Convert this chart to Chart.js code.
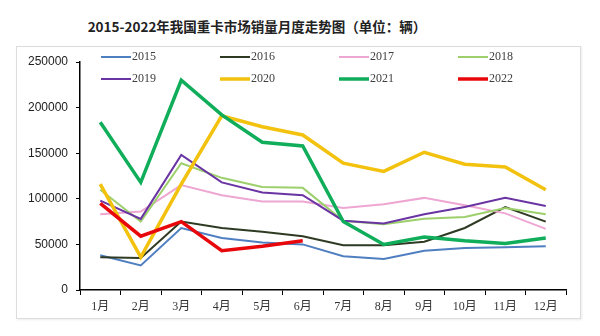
<!DOCTYPE html>
<html>
<head>
<meta charset="utf-8">
<script src="https://cdn.jsdelivr.net/npm/chart.js@4"></script>
<style>
    body { margin: 0; background: #fff; }
    #wrap { position: relative; width: 600px; height: 336px; }
    #titulo {
        position: absolute; left: 0; top: 16px; width: 514px; text-align: center;
        font: bold 13.5px "Noto Sans CJK SC", sans-serif; color: #222;
    }
    #marco {
        position: absolute; left: 16px; top: 46px; width: 563px; height: 271px;
        border: 1px solid #dcdcdc; box-shadow: 1px 1px 2px rgba(0, 0, 0, 0.08);
    }
    #myChart { position: absolute; left: 0; top: 0; }
</style>
</head>
<body>
<div id="wrap">
    <div id="titulo">2015-2022年我国重卡市场销量月度走势图（单位：辆）</div>
    <div id="marco"></div>
    <canvas id="myChart" width="600" height="336"></canvas>
</div>
<script>
// Datos
const meses = ["1月", "2月", "3月", "4月", "5月", "6月", "7月", "8月", "9月", "10月", "11月", "12月"];
const anios = ["2015", "2016", "2017", "2018", "2019", "2020", "2021", "2022"];
const v2015 = [38000, 27000, 68000, 57000, 52000, 50000, 37000, 34000, 43000, 46000, 47000, 48000];
const v2016 = [36000, 35000, 75000, 68000, 64000, 59000, 49000, 49000, 53000, 68000, 91000, 75000];
const v2017 = [83000, 86000, 115000, 104000, 97000, 97000, 90000, 94000, 101000, 93000, 84000, 67000];
const v2018 = [110000, 75000, 139000, 123000, 113000, 112000, 76000, 72000, 78000, 80000, 90000, 83000];
const v2019 = [98000, 78000, 148000, 118000, 107000, 104000, 76000, 73000, 83000, 91000, 101000, 92000];
const v2020 = [116000, 36000, 116000, 191000, 179000, 170000, 139000, 130000, 151000, 138000, 135000, 110000];
const v2021 = [184000, 118000, 230000, 192000, 162000, 158000, 75000, 50000, 58000, 54000, 51000, 57000];
const v2022 = [95000, 59000, 75000, 43000, 48000, 54000];
const yTicks = [0, 50000, 100000, 150000, 200000, 250000];

document.addEventListener("DOMContentLoaded", function () {
    const series = [v2015, v2016, v2017, v2018, v2019, v2020, v2021, v2022];
    const colores = ["#4f7fc0", "#2e3a22", "#eea6d2", "#9dd06c", "#6a35a3", "#f2c20f", "#10ad5a", "#e8080c"];
    const anchos = [2, 2, 2, 2, 2, 3.5, 3.5, 3.5];

    const datasets = anios.map((a, i) => ({
        label: a,
        data: series[i],
        borderColor: colores[i],
        backgroundColor: colores[i],
        borderWidth: anchos[i],
        pointRadius: 0,
        tension: 0,
        fill: false,
        order: anios.length - i
    }));

    // Leyenda dibujada dentro del área del gráfico (4 columnas x 2 filas)
    const leyendaPlugin = {
        id: "leyenda",
        afterDraw(chart) {
            const ctx = chart.ctx;
            ctx.save();
            ctx.font = "12px 'Liberation Serif', serif";
            ctx.textBaseline = "middle";
            chart.data.datasets.forEach((ds, i) => {
                const x = 101 + (i % 4) * 119;
                const y = 57 + Math.floor(i / 4) * 22;
                ctx.strokeStyle = ds.borderColor;
                ctx.lineWidth = ds.borderWidth;
                ctx.beginPath();
                ctx.moveTo(x, y);
                ctx.lineTo(x + 30, y);
                ctx.stroke();
                ctx.fillStyle = "#404040";
                ctx.fillText(ds.label, x + 31, y);
            });
            ctx.restore();
        }
    };

    const ctx = document.getElementById("myChart").getContext("2d");
    new Chart(ctx, {
        type: "line",
        data: { labels: meses, datasets: datasets },
        plugins: [leyendaPlugin],
        options: {
            responsive: false,
            animation: false,
            layout: { padding: { top: 62, right: 34, left: 0, bottom: 0 } },
            plugins: { legend: { display: false }, tooltip: { enabled: false } },
            scales: {
                x: {
                    offset: true,
                    grid: { offset: true, drawOnChartArea: false, drawTicks: true, tickLength: 5, color: "#000" },
                    border: { display: true, color: "#000", width: 1.5 },
                    ticks: { color: "#333", padding: 5, maxRotation: 0, font: { family: "'Liberation Serif', 'Noto Sans CJK SC', serif", size: 12 } },
                    afterFit: s => { s.height = 46; }
                },
                y: {
                    min: 0,
                    max: 250000,
                    afterBuildTicks: s => { s.ticks = yTicks.map(v => ({ value: v })); },
                    grid: { drawOnChartArea: false, drawTicks: true, tickLength: 4, color: "#000" },
                    border: { display: true, color: "#000", width: 1.5 },
                    ticks: {
                        color: "#222", padding: 8,
                        font: { family: "'Liberation Sans', Arial, sans-serif", size: 12 },
                        callback: v => String(v)
                    },
                    afterFit: s => { s.width = 80; }
                }
            }
        }
    });
});
</script>
</body>
</html>
